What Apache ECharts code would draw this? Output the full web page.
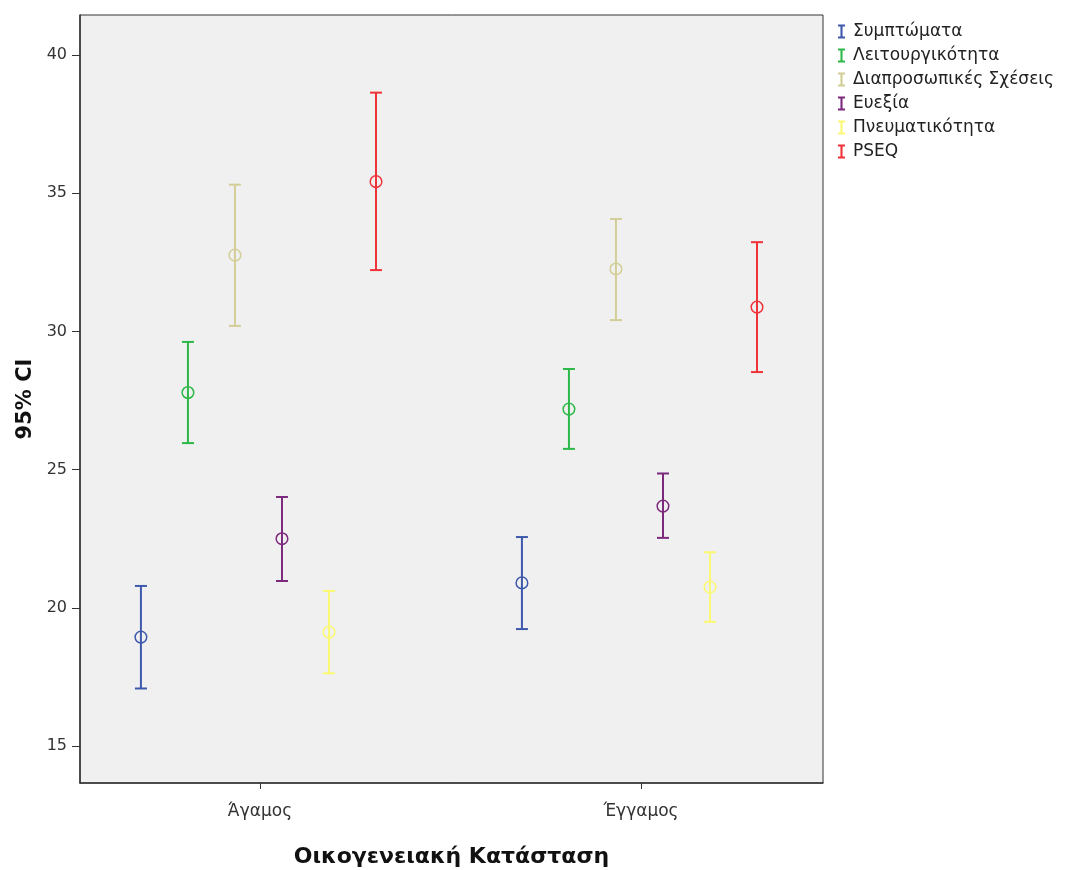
<!DOCTYPE html>
<html>
<head>
<meta charset="utf-8">
<title>95% CI ανά Οικογενειακή Κατάσταση</title>
<script src="https://cdn.jsdelivr.net/npm/echarts@6/dist/echarts.min.js"></script>
<style>
  html, body { margin: 0; padding: 0; background: #ffffff; }
  #chart { width: 1071px; height: 870px; }
</style>
</head>
<body>
<div id="chart"></div>
<script>
// Groups on the horizontal axis
const categories = ['Άγαμος', 'Έγγαμος'];

// Scales shown as coloured error bars
const seriesNames = ['Συμπτώματα', 'Λειτουργικότητα', 'Διαπροσωπικές Σχέσεις', 'Ευεξία', 'Πνευματικότητα', 'PSEQ'];

// Means per scale, one value per group
const meanSymptoms     = [18.94, 20.90];
const meanFunction     = [27.79, 27.19];
const meanRelations    = [32.76, 32.26];
const meanWellbeing    = [22.50, 23.68];
const meanSpirit       = [19.12, 20.75];
const meanPSEQ         = [35.42, 30.88];

// Lower 95% CI limits
const lowSymptoms      = [17.08, 19.23];
const lowFunction      = [25.96, 25.75];
const lowRelations     = [30.20, 30.41];
const lowWellbeing     = [20.97, 22.53];
const lowSpirit        = [17.63, 19.49];
const lowPSEQ          = [32.22, 28.53];

// Upper 95% CI limits
const highSymptoms     = [20.79, 22.56];
const highFunction     = [29.62, 28.64];
const highRelations    = [35.31, 34.07];
const highWellbeing    = [24.01, 24.86];
const highSpirit       = [20.61, 22.01];
const highPSEQ         = [38.64, 33.23];

// Y axis tick labels
const yTicks = [15, 20, 25, 30, 35, 40];

const means = [meanSymptoms, meanFunction, meanRelations, meanWellbeing, meanSpirit, meanPSEQ];
const lows  = [lowSymptoms, lowFunction, lowRelations, lowWellbeing, lowSpirit, lowPSEQ];
const highs = [highSymptoms, highFunction, highRelations, highWellbeing, highSpirit, highPSEQ];

const colors = ['#3E58AC', '#2EB848', '#D3CE97', '#7C287D', '#FBF873', '#EF3338'];

// Horizontal layout: groups sit at 0 and 1, scales spread around each group
const SLOT = 0.1234;
const SHIFT = -0.004;
const FONT = '"DejaVu Sans", Verdana, sans-serif';

const series = seriesNames.map((name, j) => ({
  name: name,
  type: 'custom',
  color: colors[j],
  data: categories.map((c, i) => [i + (j - 2.5) * SLOT + SHIFT, means[j][i], lows[j][i], highs[j][i]]),
  encode: { x: 0, y: [1, 2, 3] },
  renderItem: function (params, api) {
    const x = api.value(0);
    const pMean = api.coord([x, api.value(1)]);
    const pLow = api.coord([x, api.value(2)]);
    const pHigh = api.coord([x, api.value(3)]);
    const cap = 6;
    const style = { stroke: colors[j], lineWidth: 2, fill: null };
    return {
      type: 'group',
      children: [
        { type: 'line', shape: { x1: pLow[0], y1: pLow[1], x2: pHigh[0], y2: pHigh[1] }, style: style },
        { type: 'line', shape: { x1: pLow[0] - cap, y1: pLow[1], x2: pLow[0] + cap, y2: pLow[1] }, style: style },
        { type: 'line', shape: { x1: pHigh[0] - cap, y1: pHigh[1], x2: pHigh[0] + cap, y2: pHigh[1] }, style: style },
        { type: 'circle', shape: { cx: pMean[0], cy: pMean[1], r: 5.8 }, style: { stroke: colors[j], lineWidth: 1.5, fill: 'rgba(0,0,0,0)' } }
      ]
    };
  }
}));

// Legend glyph: a small capped bar ("I")
const barIcon = 'path://M0,0H10V3H6.5V17H10V20H0V17H3.5V3H0Z';

const chart = echarts.init(document.getElementById('chart'), null, { renderer: 'canvas' });
chart.setOption({
  animation: false,
  backgroundColor: '#ffffff',
  textStyle: { fontFamily: FONT },
  grid: {
    left: 80, top: 15, right: 248, bottom: 87,
    outerBoundsMode: 'none',
    containLabel: false,
    show: true, backgroundColor: '#f0f0f0', borderColor: '#333333', borderWidth: 1
  },
  legend: {
    orient: 'vertical',
    left: 833, top: 18,
    itemWidth: 9, itemHeight: 14, itemGap: 7,
    icon: barIcon,
    textStyle: { fontSize: 17, color: '#222', fontFamily: FONT, padding: [0, 0, 0, 2] },
    data: seriesNames.map((n, j) => ({ name: n, itemStyle: { color: colors[j] } }))
  },
  xAxis: {
    type: 'value',
    min: -0.4724, max: 1.4777,
    name: 'Οικογενειακή Κατάσταση',
    nameLocation: 'middle',
    nameGap: 63,
    nameTextStyle: { fontSize: 22, fontWeight: 'bold', color: '#111', fontFamily: FONT },
    axisLine: { show: true, onZero: false, lineStyle: { color: '#333', width: 1.5 } },
    axisTick: { show: true, customValues: [0, 1], length: 6, lineStyle: { color: '#333' } },
    axisLabel: {
      customValues: [0, 1],
      formatter: v => categories[Math.round(v)] || '',
      fontSize: 17, color: '#333', margin: 20, fontFamily: FONT
    },
    splitLine: { show: false }
  },
  yAxis: {
    type: 'value',
    min: 13.66, max: 41.45,
    name: '95% CI',
    nameLocation: 'middle',
    nameGap: 34,
    nameRotate: 90,
    nameTextStyle: { fontSize: 21, fontWeight: 'bold', color: '#111', fontFamily: FONT },
    axisLine: { show: true, onZero: false, lineStyle: { color: '#333', width: 1.5 } },
    axisTick: { show: true, customValues: yTicks, length: 8, lineStyle: { color: '#333' } },
    axisLabel: { customValues: yTicks, fontSize: 16, color: '#333', margin: 13, fontFamily: FONT },
    splitLine: { show: false }
  },
  series: series
});
</script>
</body>
</html>
